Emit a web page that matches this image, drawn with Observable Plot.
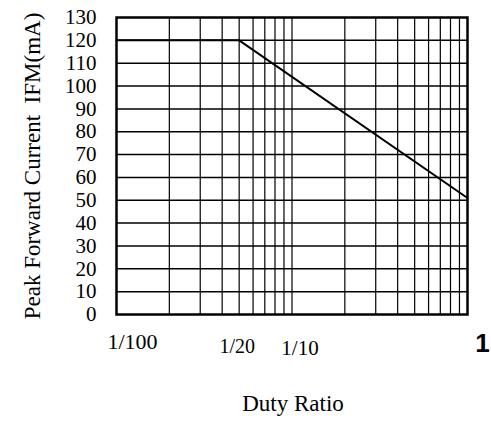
<!DOCTYPE html>
<html>
<head>
<meta charset="utf-8">
<script src="https://cdn.jsdelivr.net/npm/d3@7"></script>
<script src="https://cdn.jsdelivr.net/npm/@observablehq/plot@0.6"></script>
<style>
  html, body { margin: 0; padding: 0; background: white; }
</style>
</head>
<body>
<div id="chart"></div>
<script>
// Data
const dutyRatio = [0.01, 0.05, 1];
const peakCurrent = [120, 120, 51];

const xGridValues = [0.02, 0.03, 0.04, 0.05, 0.06, 0.07, 0.08, 0.09, 0.1, 0.2, 0.3, 0.4, 0.5, 0.6, 0.7, 0.8, 0.9];
const yGridValues = [10, 20, 30, 40, 50, 60, 70, 80, 90, 100, 110, 120];
const yTickValues = [0, 10, 20, 30, 40, 50, 60, 70, 80, 90, 100, 110, 120, 130];
const xTickValues = [0.01, 0.05, 0.1, 1];
const xTickLabels = ["1/100", "1/20", "1/10", "1"];

const yTitle = "Peak Forward Current  IFM(mA)";
const xTitle = "Duty Ratio";

const lineData = dutyRatio.map((d, i) => ({x: d, y: peakCurrent[i]}));
const xTicks = xTickValues.map((v, i) => ({x: v, label: xTickLabels[i]}));

const serif = "'Liberation Serif', 'Times New Roman', serif";

const chart = Plot.plot({
  width: 491,
  height: 428,
  marginLeft: 116,
  marginRight: 24,
  marginTop: 17,
  marginBottom: 114,
  style: {fontFamily: serif, background: "white", color: "black"},
  x: {type: "log", domain: [0.01, 1]},
  y: {domain: [0, 130]},
  marks: [
    Plot.ruleX(xGridValues, {stroke: "black", strokeWidth: 1.2}),
    Plot.ruleY(yGridValues, {stroke: "black", strokeWidth: 1.5}),
    Plot.line(lineData, {x: "x", y: "y", stroke: "black", strokeWidth: 2}),
    Plot.frame({stroke: "black", strokeWidth: 2.5}),
    Plot.axisY(yTickValues, {tickSize: 0, tickPadding: 20, fontSize: 21, label: null, fontFamily: serif}),
    Plot.axisX({ticks: [], label: null, tickSize: 0}),
    Plot.text(xTicks.filter(d => d.label === "1/100"), {x: "x", text: "label", frameAnchor: "bottom", dy: 34, dx: 16, fontSize: 22, fontFamily: serif}),
    Plot.text(xTicks.filter(d => d.label === "1/20"), {x: "x", text: "label", frameAnchor: "bottom", dy: 38, dx: -2, fontSize: 20, fontFamily: serif}),
    Plot.text(xTicks.filter(d => d.label === "1/10"), {x: "x", text: "label", frameAnchor: "bottom", dy: 40, dx: 8, fontSize: 21, fontFamily: serif}),
    Plot.text(xTicks.filter(d => d.label === "1"), {x: "x", text: "label", frameAnchor: "bottom", dy: 37, dx: 15, fontSize: 26, fontWeight: "bold", fontFamily: "'Liberation Sans', Arial, sans-serif"}),
    Plot.text([xTitle], {frameAnchor: "bottom", dy: 96, dx: 1, fontSize: 23, fontFamily: serif}),
    Plot.text([yTitle], {frameAnchor: "left", textAnchor: "middle", dx: -84, dy: 0, rotate: -90, fontSize: 23, fontFamily: serif})
  ]
});
document.getElementById("chart").appendChild(chart);
</script>
</body>
</html>
